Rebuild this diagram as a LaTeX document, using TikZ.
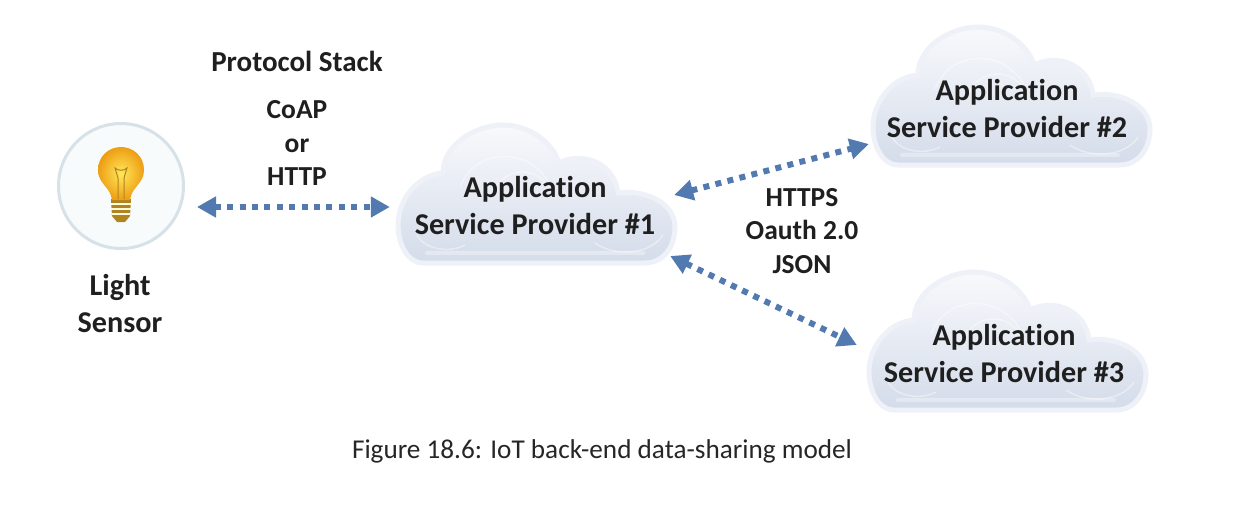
\documentclass[tikz,border=0pt]{standalone}
\usepackage{fontspec}
\setmainfont[Ligatures=NoCommon]{Carlito}
\usepackage{xcolor}
\usetikzlibrary{arrows.meta, positioning}
\definecolor{linkblue}{RGB}{82, 122, 176}
\definecolor{cloudedge}{RGB}{238, 241, 247}
\definecolor{cloudtop}{RGB}{248, 249, 252}
\definecolor{cloudbottom}{RGB}{212, 220, 234}
\definecolor{sensorring}{RGB}{214, 226, 232}
\definecolor{sensorfill}{RGB}{247, 251, 252}
\definecolor{bulbinner}{RGB}{255, 232, 90}
\definecolor{bulbouter}{RGB}{238, 158, 20}
\definecolor{bulbbase}{RGB}{176, 132, 30}
\tikzset{
    headtext/.style={font=\fontsize{30.2}{37}\selectfont\bfseries, text=black!88, align=center, inner sep=0pt},
    listtext/.style={font=\fontsize{27.5}{33.3}\selectfont\bfseries, text=black!88, align=center, inner sep=0pt},
    cloudbox/.style={headtext, minimum width=280pt, minimum height=110pt},
    linkarrow/.style={{Triangle[length=19pt, width=20pt]}-{Triangle[length=19pt, width=20pt]}, linkblue, line width=6pt, dash pattern=on 6pt off 6.4pt},
    pics/aspcloud/.style={code={
        % Outer glow and body
        \draw[cloudedge, line width=5pt, top color=cloudtop, bottom color=cloudbottom]
            (-112,68) .. controls (-128,68) and (-137,48) .. (-137,30)
            .. controls (-137,5) and (-118,-20) .. (-92,-22)
            .. controls (-92,-50) and (-60,-70) .. (-32,-70)
            .. controls (-5,-70) and (18,-52) .. (24,-32)
            .. controls (50,-45) and (80,-30) .. (83,-2)
            .. controls (110,-6) and (140,8) .. (140,32)
            .. controls (140,52) and (128,68) .. (110,68) -- cycle;
        % Inner highlights
        \draw[white, opacity=0.4, line width=1.5pt]
            (-75,-8) .. controls (-60,-48) and (-5,-48) .. (14,-12)
            (-42,-2) .. controls (-32,-28) and (0,-30) .. (14,-8)
            (-118,40) .. controls (-110,55) and (-85,58) .. (-70,50)
            (60,48) .. controls (80,62) and (115,60) .. (128,40);
        \draw[white, opacity=0.35, line width=4pt, line cap=round] (-108,58) -- (108,58);
    }},
}
\begin{document}
\begin{tikzpicture}[x=1pt, y=-1pt]
    \useasboundingbox (0,0) rectangle (1244,520);

    % Clouds
    \pic at (535,195) {aspcloud};
    \pic at (1010,97) {aspcloud};
    \pic at (1006,342) {aspcloud};

    % Sensor
    \node (sensor) [circle, minimum size=125pt, inner sep=0pt, draw=sensorring, line width=3pt, fill=sensorfill] at (121,186) {};

    % Bulb
    \fill[bulbbase] (111,199) -- (131,199) -- (130,216) -- (125,222) -- (117,222) -- (112,216) -- cycle;
    \draw[white!80!bulbinner, line width=1.2pt] (111,204) -- (131,204) (111,209) -- (131,209) (112,214) -- (130,214);
    \shade[inner color=bulbinner, outer color=bulbouter]
        (112,200) .. controls (110,186) and (98,184) .. (98,170)
        .. controls (98,156) and (109,147) .. (121,147)
        .. controls (133,147) and (144,156) .. (144,170)
        .. controls (144,184) and (132,186) .. (130,200) -- cycle;
    \draw[bulbbase, line width=1pt]
        (118,199) -- (118,178) -- (115,168) .. controls (118,171) and (124,171) .. (127,168) -- (124,178) -- (124,199);

    % Labels
    \node (stacktitle) [headtext, font=\fontsize{29}{37}\selectfont\bfseries] at (297,61) {Protocol Stack};
    \node (stacklist) [listtext] at (297,143) {CoAP\\or\\HTTP};
    \node (sensorname) [headtext] at (120,304) {Light\\Sensor};
    \node (securelist) [listtext] at (802,231) {HTTPS\\Oauth 2.0\\JSON};
    \node (asp1) [cloudbox] at (535,206) {Application\\Service Provider \#1};
    \node (asp2) [cloudbox] at (1007,109) {Application\\Service Provider \#2};
    \node (asp3) [cloudbox] at (1004,354) {Application\\Service Provider \#3};

    % Links
    \draw[linkarrow] ([xshift=12pt, yshift=-21pt]sensor.east) -- ([xshift=-5pt, yshift=-1pt]asp1.west);
    \draw[linkarrow] ([xshift=-1pt, yshift=11pt]asp1.east) -- ([xshift=2pt, yshift=-35pt]asp2.west);
    \draw[linkarrow] ([xshift=-5pt, yshift=-50pt]asp1.east) -- ([xshift=-7pt, yshift=9pt]asp3.west);

    % Caption
    \node (caption) [font=\fontsize{27.2}{32}\selectfont, text=black!85, inner sep=0pt] at (602,451) {Figure 18.6: IoT back-end data-sharing model};
\end{tikzpicture}
\end{document}
